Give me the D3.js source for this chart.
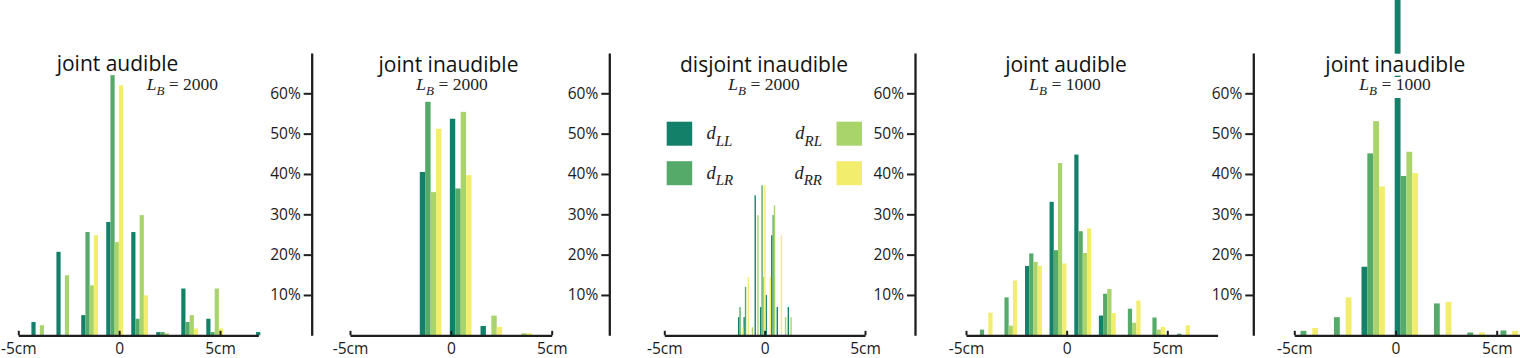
<!DOCTYPE html>
<html><head><meta charset="utf-8">
<script src="https://cdn.jsdelivr.net/npm/d3@7"></script>
<style>
html,body{margin:0;padding:0;background:#fff;}
svg{display:block;}
</style></head><body>
<svg id="chart" width="1520" height="358"></svg>
<script>
// ---------- DATA ----------
const seriesKeys = ["LL", "LR", "RL", "RR"];
const xTickValues = [-5, 0, 5];
const xTickLabels = ["-5cm", "0", "5cm"];
const yTickValues = [0.1, 0.2, 0.3, 0.4, 0.5, 0.6];
const yTickLabels = ["10%", "20%", "30%", "40%", "50%", "60%"];

// Panel 1: joint audible, L_B = 2000  (bin left edges in cm, values in %)
const p1Title = "joint audible", p1LB = "2000";
const p1Bins = [-4.35, -3.11, -1.88, -0.64, 0.60, 1.84, 3.08, 4.32, 5.55, 6.79];
const p1LL = [3.3, 20.7, 5.0, 28.1, 25.6, 0.8, 11.6, 4.1, 0, 0.8];
const p1LR = [0, 0, 25.6, 64.5, 4.1, 0.8, 3.3, 0.8, 0, 0];
const p1RL = [2.5, 14.9, 12.4, 23.1, 29.8, 0.5, 5.0, 11.6, 0, 0];
const p1RR = [0, 0, 24.8, 62.0, 9.9, 0, 1.7, 1.7, 0, 0];

// Panel 2: joint inaudible, L_B = 2000
const p2Title = "joint inaudible", p2LB = "2000";
const p2Bins = [-1.54, -0.05, 1.47, 2.96];
const p2LL = [40.5, 53.7, 2.3, 0];
const p2LR = [57.9, 36.4, 0, 0];
const p2RL = [35.5, 55.4, 4.9, 0.5];
const p2RR = [51.2, 39.7, 2.1, 0.5];

// Panel 3: disjoint inaudible, L_B = 2000
const p3Title = "disjoint inaudible", p3LB = "2000";
const p3Bins = [-1.33, -1.055, -0.78, -0.505, -0.23, 0.045, 0.32, 0.595, 0.87, 1.145];
const p3LL = [4.5, 4.5, 0, 34.7, 7.0, 10.0, 24.8, 7.0, 0, 7.0];
const p3LR = [7.0, 12.0, 0, 0, 37.2, 0, 29.8, 0, 0, 0];
const p3RL = [0, 0, 2.0, 29.8, 14.5, 0, 32.2, 0, 4.5, 4.5];
const p3RR = [2.0, 14.5, 0, 0, 37.2, 14.5, 0, 24.8, 0, 0];

// Panel 4: joint audible, L_B = 1000
const p4Title = "joint audible", p4LB = "1000";
const p4Bins = [-4.52, -3.30, -2.07, -0.85, 0.38, 1.60, 2.83, 4.05, 5.28];
const p4LL = [0, 0, 17.2, 33.1, 44.8, 4.9, 0, 0, 0];
const p4LR = [1.4, 9.4, 20.3, 21.1, 25.8, 10.3, 6.6, 4.4, 0.4];
const p4RL = [0, 2.4, 18.2, 42.7, 20.4, 11.5, 3.1, 1.4, 0];
const p4RR = [5.6, 13.6, 17.2, 17.8, 26.5, 5.5, 8.6, 2.1, 2.5];

// Panel 5: joint inaudible, L_B = 1000
const p5Title = "joint inaudible", p5LB = "1000";
const p5Bins = [-4.98, -3.33, -1.68, -0.04, 1.61, 3.26, 4.90];
const p5LL = [0, 0, 17.0, 88.0, 0, 0, 0];
const p5LR = [1.1, 4.5, 45.1, 39.5, 7.9, 0.7, 1.2];
const p5RL = [0, 0, 53.1, 45.5, 0, 0, 0];
const p5RR = [1.8, 9.4, 36.9, 40.2, 8.3, 0.7, 1.1];

// ---------- STYLE / LAYOUT ----------
const colors = ["#13806a", "#55aa69", "#a9d46b", "#f3ed6d"];
const panels = [
  {title: p1Title, lb: p1LB, bins: p1Bins, vals: [p1LL, p1LR, p1RL, p1RR]},
  {title: p2Title, lb: p2LB, bins: p2Bins, vals: [p2LL, p2LR, p2RL, p2RR]},
  {title: p3Title, lb: p3LB, bins: p3Bins, vals: [p3LL, p3LR, p3RL, p3RR]},
  {title: p4Title, lb: p4LB, bins: p4Bins, vals: [p4LL, p4LR, p4RL, p4RR]},
  {title: p5Title, lb: p5LB, bins: p5Bins, vals: [p5LL, p5LR, p5RL, p5RR]}
];
// panel 1's y axis lies outside the visible frame, so it is not drawn
const layout = [
  {xl: 18.3, xr: 220.0, xmax: 6.9, yAxisX: null, frac: 0.168, tx: 117.5, ty: 70.7, sx: 218, sy: 90, sAnchor: "end"},
  {xl: 350.0, xr: 551.7, xmax: 5, yAxisX: 311.7, frac: 0.180, tx: 448.5, ty: 72.3, sx: 452, sy: 90, sAnchor: "middle"},
  {xl: 664.3, xr: 865.0, xmax: 5, yAxisX: 609.3, frac: 0.25, tx: 764, ty: 72.3, sx: 764, sy: 90, sAnchor: "middle"},
  {xl: 966.0, xr: 1167.3, xmax: 7.5, yAxisX: 915.0, frac: 0.172, tx: 1066, ty: 72.0, sx: 1065, sy: 90, sAnchor: "middle"},
  {xl: 1294.3, xr: 1496.7, xmax: 6.6, yAxisX: 1253.3, frac: 0.175, tx: 1395.3, ty: 71.7, sx: 1395, sy: 90, sAnchor: "middle"}
];
const baseY = 335.3, y60 = 93.3;
const sansFont = "'Open Sans', 'Noto Sans', sans-serif";
const serifFont = "'Liberation Serif', 'DejaVu Serif', serif";

const svg = d3.select("#chart");
const y = d3.scaleLinear().domain([0, 0.6]).range([baseY, y60]);
const yAxisScale = y.copy().domain([0, 0.7]).range([baseY, y(0.7)]);

const barsLayer = svg.append("g");
const axisLayer = svg.append("g");
const titleLayer = svg.append("g");

panels.forEach((p, pi) => {
  const L = layout[pi];
  const x = d3.scaleLinear().domain([-5, 5]).range([L.xl, L.xr]);
  const step = x(p.bins[1]) - x(p.bins[0]);
  const bw = step * L.frac;
  const g = barsLayer.append("g");
  seriesKeys.forEach((k, si) => {
    g.selectAll(null).data(p.bins.map((b, i) => ({b, v: p.vals[si][i] / 100})))
      .join("rect")
      .attr("x", d => x(d.b) + si * bw)
      .attr("width", bw)
      .attr("y", d => y(d.v))
      .attr("height", d => y(0) - y(d.v))
      .attr("fill", colors[si]);
  });

  // x axis
  const xAxisScale = x.copy().domain([-5, L.xmax]).range([L.xl, x(L.xmax)]);
  const xg = axisLayer.append("g").attr("transform", `translate(0,${baseY})`)
    .call(d3.axisBottom(xAxisScale).tickValues(xTickValues)
      .tickFormat((d, i) => xTickLabels[i]).tickSizeInner(-4.5).tickSizeOuter(0).tickPadding(8));
  styleAxis(xg);

  // y axis
  if (L.yAxisX !== null) {
    const yg = axisLayer.append("g").attr("transform", `translate(${L.yAxisX},0)`)
      .call(d3.axisLeft(yAxisScale).tickValues(yTickValues)
        .tickFormat((d, i) => yTickLabels[i]).tickSize(8).tickSizeOuter(0).tickPadding(3));
    styleAxis(yg);
  }

  // titles
  const tg = titleLayer.append("g");
  const t1 = tg.append("text").attr("x", L.tx).attr("y", L.ty)
    .attr("text-anchor", "middle").attr("font-family", sansFont).attr("font-size", 21)
    .attr("fill", "#111").text(p.title);
  const t2 = tg.append("text").attr("x", L.sx).attr("y", L.sy)
    .attr("text-anchor", L.sAnchor).attr("font-family", serifFont).attr("font-size", 17.5)
    .attr("fill", "#222");
  t2.append("tspan").attr("font-style", "italic").text("L");
  t2.append("tspan").attr("font-style", "italic").attr("font-size", 13).attr("dy", 5).text("B");
  t2.append("tspan").attr("dy", -5).text(" = " + p.lb);
  [[t1, 4, 2], [t2, 3, 0]].forEach(([t, top, bot]) => {
    const bb = t.node().getBBox();
    tg.insert("rect", () => t.node())
      .attr("x", bb.x - 1).attr("y", bb.y + top)
      .attr("width", bb.width + 2).attr("height", bb.height - top - bot)
      .attr("fill", "#fff");
  });
});

function styleAxis(g) {
  g.attr("font-family", sansFont).attr("font-size", 15.5);
  g.selectAll(".domain").attr("stroke", "#1e1e1e").attr("stroke-width", 2.3);
  g.selectAll(".tick line").attr("stroke", "#1e1e1e").attr("stroke-width", 2);
  g.selectAll(".tick text").attr("fill", "#1a1a1a");
}

// legend (panel 3)
const legendItems = [
  {sub: "LL", side: "left", row: 0, c: 0},
  {sub: "LR", side: "left", row: 1, c: 1},
  {sub: "RL", side: "right", row: 0, c: 2},
  {sub: "RR", side: "right", row: 1, c: 3}
];
const lg = svg.append("g");
legendItems.forEach(it => {
  const top = 121.7 + it.row * 39.5;
  const sqX = it.side === "left" ? 666.7 : 836.5;
  lg.append("rect").attr("x", sqX).attr("y", top).attr("width", 25.5).attr("height", 24)
    .attr("fill", colors[it.c]);
  const t = lg.append("text")
    .attr("x", it.side === "left" ? 706.5 : 822)
    .attr("y", top + 17.5)
    .attr("text-anchor", it.side === "left" ? "start" : "end")
    .attr("font-family", serifFont).attr("font-style", "italic").attr("font-size", 18.5)
    .attr("fill", "#222");
  t.append("tspan").text("d");
  t.append("tspan").attr("font-size", 15).attr("dy", 6.5).text(it.sub);
});
</script>
</body></html>
